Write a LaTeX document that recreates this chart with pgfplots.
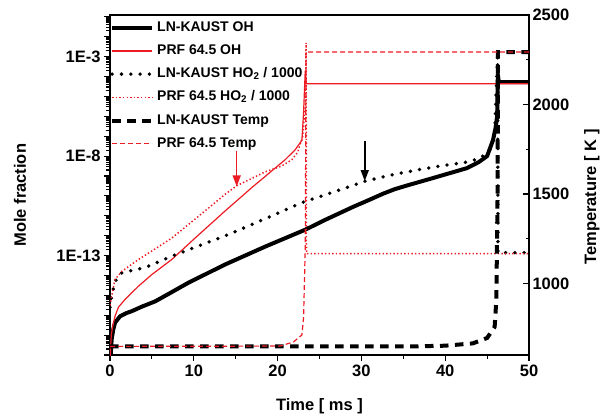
\documentclass[border=0pt]{standalone}
\usepackage{pgfplots}
\pgfplotsset{compat=1.18}
\usepackage{fontspec}
\setmainfont{Liberation Sans}
\usetikzlibrary{arrows.meta}

\definecolor{myred}{RGB}{237,28,36}

\newcommand\lblfont{\fontsize{16.5}{19}\selectfont\bfseries}

\pgfplotsset{
  kaustOH/.style={black, line width=4pt, line join=round},
  prfOH/.style={myred, line width=1.2pt},
  kaustHO/.style={black, line width=3.8pt, line cap=round, dash pattern=on 0pt off 9.3pt},
  prfHO/.style={myred, line width=1.5pt, dash pattern=on 1.4pt off 2.2pt},
  kaustT/.style={black, line width=4pt, dash pattern=on 8.5pt off 6.5pt},
  prfT/.style={myred, line width=1.2pt, dash pattern=on 5pt off 3pt},
  common/.style={
    scale only axis, width=419pt, height=340pt,
    xmin=0, xmax=50,
    axis line style={line width=1.3pt},
    tick style={line width=1.1pt, black},
    major tick length=6pt, minor tick length=3.5pt,
    tick label style={font=\lblfont},
    /pgf/number format/assume math mode=true,
    /pgf/number format/1000 sep={},
  },
}

\def\minorlist{}
\foreach \e in {-18,...,-2}{\foreach \m in {2,...,9}{\xdef\minorlist{\minorlist\m e\e,}}}
\xdef\minorlist{\minorlist 2e-1}

\begin{document}
\begin{tikzpicture}
\useasboundingbox (-110pt,-61pt) rectangle (491pt,355pt);
\begin{axis}[
  common,
  ymode=log, ymin=1e-18, ymax=0.125,
  xtick={0,10,20,30,40,50}, minor x tick num=1,
  xtick pos=left, ytick pos=left,
  tick align=outside,
  ytick={1e-18,1e-17,1e-16,1e-15,1e-14,1e-13,1e-12,1e-11,1e-10,1e-9,1e-8,1e-7,1e-6,1e-5,1e-4,1e-3,1e-2,1e-1},
  yticklabels={,,,,,1E-13,,,,,1E-8,,,,,1E-3,,},
  minor ytick/.expanded={\minorlist},
  xlabel={Time [ ms ]},
  ylabel={Mole fraction},
  every axis x label/.style={at={(axis description cs:0.5,-0.15)}, anchor=center, font=\lblfont},
  every axis y label/.style={at={(axis description cs:-0.2148,0.47)}, rotate=90, anchor=center, font=\lblfont},
]
% LN-KAUST OH
\addplot[kaustOH] coordinates {
(0.05,5e-19) (0.2,6.3e-18) (0.4,2.0e-17) (0.6,4.2e-17) (1.2,8.9e-17) (2.0,1.3e-16) (2.6,1.6e-16)
(3.8,2.7e-16) (5.4,5.0e-16) (7.3,1.4e-15) (9.35,4.3e-15) (13.7,3.5e-14) (18.5,2.8e-13) (23.3,2.0e-12) (25.7,6.3e-12)
(29,2.8e-11) (31,6.5e-11) (32.6,1.3e-10) (34,2.2e-10) (35.5,3.4e-10) (38.4,7.6e-10) (40.5,1.38e-9) (42.6,2.5e-9)
(44,5.0e-9) (45,1.0e-8) (45.7,6.3e-8) (46.0,2.5e-7) (46.2,1.0e-6) (46.28,1.26e-4)
(46.4,5.2e-5) (50,5.2e-5)
};
% PRF 64.5 OH
\addplot[prfOH] coordinates {
(0.0,5e-19) (0.15,1e-17) (0.3,2.5e-17) (0.6,8.9e-17) (1.0,2.5e-16) (1.8,6.3e-16)
(3.4,2.9e-15) (5.0,1.12e-14) (7.36,6.3e-14) (9.94,6.3e-13) (13.7,1.7e-11) (17,2.8e-10)
(20.9,6.6e-9) (22.1,2.1e-8) (22.9,6.3e-8) (23.1,1.6e-6) (23.3,2.0e-4) (23.4,4.4e-5) (50,4.4e-5)
};
% LN-KAUST HO2/1000
\addplot[kaustHO] coordinates {
(0,2.5e-16) (0.2,8.9e-16) (0.6,5.0e-15) (1.4,1.35e-14) (4.2,2.5e-14) (7.36,9.3e-14)
(11.3,4.0e-13) (14.1,1.12e-12) (18.5,7.1e-12) (23.3,5.4e-11) (25.3,1.0e-10) (30.4,5.4e-10)
(33.5,1.12e-9) (36.6,2.0e-9) (39.6,3.3e-9) (42.6,5.0e-9) (44.2,7.9e-9) (45.3,2.0e-8)
(45.9,1.26e-7) (46.25,1.0e-3) (46.3,1.4e-13) (50,1.4e-13)
};
% PRF 64.5 HO2/1000
\addplot[prfHO] coordinates {
(0,3.2e-16) (0.2,8.9e-16) (0.6,6.3e-15) (1.4,1.6e-14) (3.4,6.3e-14) (5.4,2.2e-13) (7.36,7.5e-13)
(10.5,9.0e-12) (13.7,1.17e-10) (15.1,3.2e-10) (17,7.9e-10) (18.5,1.6e-9) (20.5,3.2e-9)
(21.7,6.6e-9) (22.4,1.6e-8) (23.0,1e-7) (23.3,3.2e-6) (23.4,5.0e-3) (23.45,1.26e-13) (50,1.26e-13)
};
\draw[myred, line width=1.5pt, -{Triangle[width=8pt,length=11pt]}] (axis cs:15.12,1.74e-8) -- (axis cs:15.12,3.0e-10);
\draw[black, line width=1.5pt, -{Triangle[width=8pt,length=11pt]}] (axis cs:30.4,5.5e-8) -- (axis cs:30.4,5.6e-10);
\end{axis}

\begin{axis}[
  common,
  ymin=600, ymax=2500,
  axis x line=none, axis y line*=right,
  tick align=inside,
  ytick={1000,1500,2000,2500}, minor y tick num=1,
  ylabel={Temperature [ K ]},
  every axis y label/.style={at={(axis description cs:1.150,0.465)}, rotate=90, anchor=center, font=\lblfont},
  legend image code/.code={\draw[#1] (0pt,0pt) -- (40pt,0pt);},
  legend cell align=left,
  legend style={font=\fontsize{14}{16}\selectfont\bfseries, draw=none, fill=none,
    at={(axis description cs:0,1)}, anchor=north west, yshift=-6pt,
    inner sep=0pt, row sep=10.2pt,
    nodes={text height=10pt, text depth=3pt, inner ysep=0pt, inner xsep=3pt}},
]
\addlegendimage{kaustOH}\addlegendentry{LN-KAUST OH}
\addlegendimage{prfOH}\addlegendentry{PRF 64.5 OH}
\addlegendimage{kaustHO}\addlegendentry{LN-KAUST HO\textsubscript{2} / 1000}
\addlegendimage{prfHO}\addlegendentry{PRF 64.5 HO\textsubscript{2} / 1000}
\addplot[kaustT] coordinates {
(0,648) (36,648) (40,652) (43.3,665) (45,695) (45.9,757) (46.1,907) (46.25,1500) (46.3,2293) (50,2293)
};
\addlegendentry{LN-KAUST Temp}
\addplot[prfT] coordinates {
(0,648) (20.3,650) (21.9,673) (22.9,712) (23.1,812) (23.3,1200) (23.4,2293) (50,2293)
};
\addlegendentry{PRF 64.5 Temp}
\end{axis}
\end{tikzpicture}
\end{document}
